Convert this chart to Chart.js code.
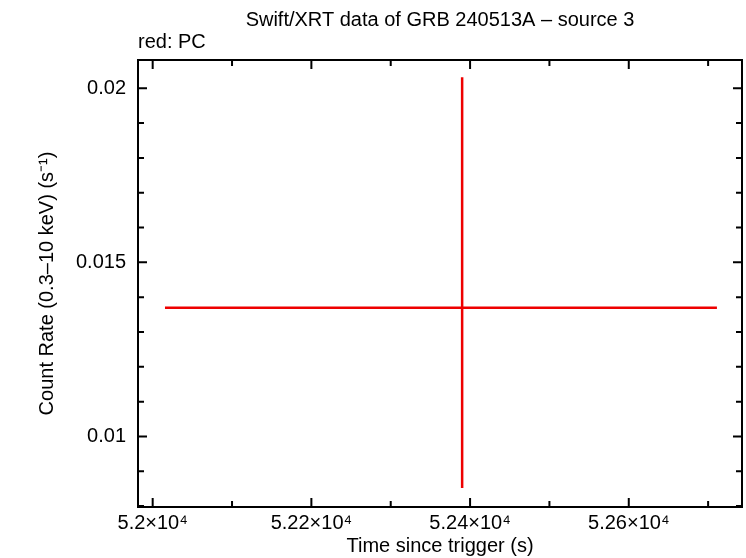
<!DOCTYPE html>
<html>
<head>
<meta charset="utf-8">
<script src="https://cdn.jsdelivr.net/npm/chart.js@4.4.1/dist/chart.umd.min.js"></script>
<style>
  html, body { margin: 0; padding: 0; background: #fff; }
  #wrap { width: 746px; height: 558px; position: relative; }
</style>
</head>
<body>
<div id="wrap"><canvas id="c"></canvas></div>
<script>
// ---- data ----
const pointX = [52390];
const pointY = [0.013694];
const xErrLow = [52015.5];
const xErrHigh = [52711.1];
const yErrLow = [0.008519];
const yErrHigh = [0.020316];

// ---- axis ranges and ticks ----
const xRange = [51981.5, 52742.7];
const yRange = [0.007974, 0.020812];
const xMajorTicks = [52000, 52200, 52400, 52600];
const xTickLabels = ['5.2×10⁴', '5.22×10⁴', '5.24×10⁴', '5.26×10⁴'];
const xMinorTicks = [52100, 52300, 52500, 52700];
const yMajorTicks = [0.01, 0.015, 0.02];
const yTickLabels = ['0.01', '0.015', '0.02'];
const yMinorTicks = [0.008, 0.009, 0.011, 0.012, 0.013, 0.014, 0.016, 0.017, 0.018, 0.019];

const titleText = 'Swift/XRT data of GRB 240513A – source 3';
const subText = 'red: PC';
const xTitle = 'Time since trigger (s)';
const yTitle = 'Count Rate (0.3–10 keV) (s⁻¹)';

const RED = 'rgb(238,0,0)';
const FONT = 'Liberation Sans, Arial, Helvetica, sans-serif';
const FS = 20;

const datasets = [];
for (let i = 0; i < pointX.length; i++) {
  datasets.push({
    data: [{x: xErrLow[i], y: pointY[i]}, {x: xErrHigh[i], y: pointY[i]}],
    showLine: true, borderColor: RED, borderWidth: 2.5, pointRadius: 0, fill: false
  });
  datasets.push({
    data: [{x: pointX[i], y: yErrLow[i]}, {x: pointX[i], y: yErrHigh[i]}],
    showLine: true, borderColor: RED, borderWidth: 2.5, pointRadius: 0, fill: false
  });
}

const framePlugin = {
  id: 'frame',
  afterDraw(chart) {
    const ctx = chart.ctx;
    const a = chart.chartArea;
    const xs = chart.scales.x, ys = chart.scales.y;
    ctx.save();
    ctx.strokeStyle = '#000';
    ctx.lineWidth = 2;
    ctx.strokeRect(a.left, a.top, a.right - a.left, a.bottom - a.top);
    const tick = (vals, len) => {
      vals.forEach(v => {
        const px = xs.getPixelForValue(v);
        ctx.beginPath();
        ctx.moveTo(px, a.bottom); ctx.lineTo(px, a.bottom - len);
        ctx.moveTo(px, a.top); ctx.lineTo(px, a.top + len);
        ctx.stroke();
      });
    };
    const tickY = (vals, len) => {
      vals.forEach(v => {
        const py = ys.getPixelForValue(v);
        ctx.beginPath();
        ctx.moveTo(a.left, py); ctx.lineTo(a.left + len, py);
        ctx.moveTo(a.right, py); ctx.lineTo(a.right - len, py);
        ctx.stroke();
      });
    };
    tick(xMajorTicks, 9); tick(xMinorTicks, 6);
    tickY(yMajorTicks, 9); tickY(yMinorTicks, 6);
    // titles
    ctx.fillStyle = '#000';
    ctx.font = FS + 'px ' + FONT;
    ctx.textAlign = 'center';
    ctx.textBaseline = 'middle';
    ctx.fillText(titleText, (a.left + a.right) / 2, 20);
    ctx.textAlign = 'left';
    ctx.fillText(subText, a.left, 42);
    ctx.restore();
  }
};

new Chart(document.getElementById('c'), {
  type: 'scatter',
  data: { datasets },
  options: {
    responsive: true,
    maintainAspectRatio: false,
    animation: false,
    layout: { padding: { top: 60, right: 4, left: 0, bottom: 0 } },
    plugins: { legend: { display: false }, tooltip: { enabled: false }, title: { display: false } },
    scales: {
      x: {
        type: 'linear', min: xRange[0], max: xRange[1],
        grid: { display: false, drawTicks: false },
        border: { display: false },
        afterBuildTicks: s => { s.ticks = xMajorTicks.map(v => ({ value: v })); },
        afterFit: s => { s.height = 51; },
        ticks: {
          color: '#000', padding: 4, maxRotation: 0, autoSkip: false,
          font: { family: FONT, size: FS },
          callback: (v) => { const i = xMajorTicks.indexOf(v); return i >= 0 ? xTickLabels[i] : ''; }
        },
        title: { display: true, text: xTitle, color: '#000', font: { family: FONT, size: FS }, padding: { top: 0, bottom: 0 } }
      },
      y: {
        type: 'linear', min: yRange[0], max: yRange[1],
        grid: { display: false, drawTicks: false },
        border: { display: false },
        afterBuildTicks: s => { s.ticks = yMajorTicks.map(v => ({ value: v })); },
        afterFit: s => { s.width = 138; },
        ticks: {
          color: '#000', padding: 12, autoSkip: false,
          font: { family: FONT, size: FS },
          callback: (v) => { const i = yMajorTicks.findIndex(t => Math.abs(t - v) < 1e-9); return i >= 0 ? yTickLabels[i] : ''; }
        },
        title: { display: true, text: yTitle, color: '#000', font: { family: FONT, size: FS }, padding: { top: 35, bottom: 0 } }
      }
    }
  },
  plugins: [framePlugin]
});
</script>
</body>
</html>
